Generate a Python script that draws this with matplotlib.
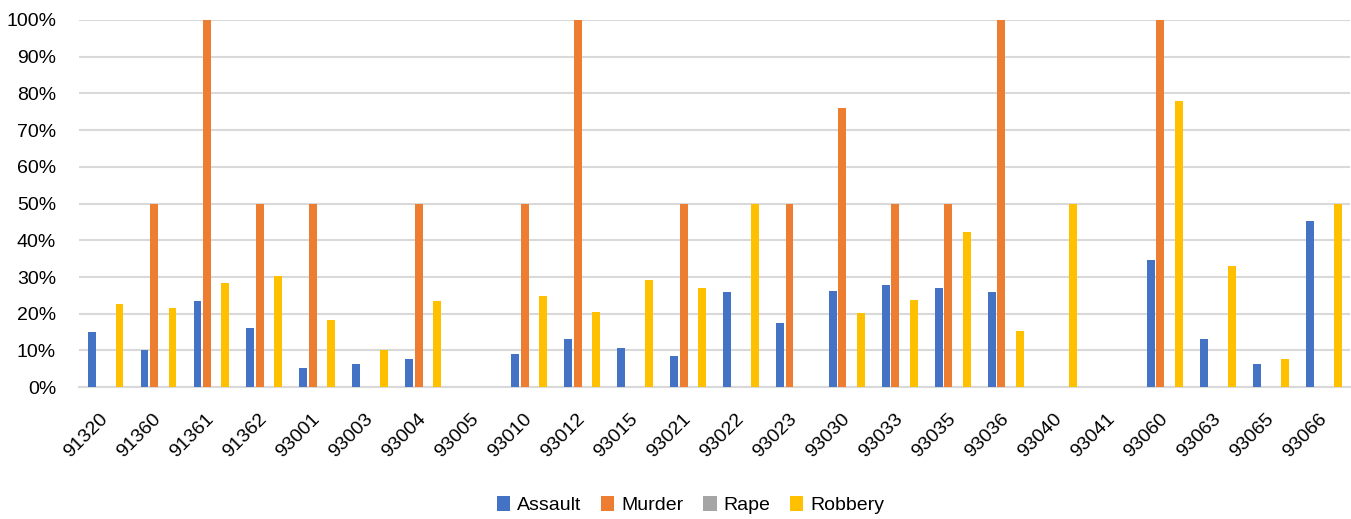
import numpy as np
import matplotlib.pyplot as plt
from matplotlib.ticker import PercentFormatter

# Zip codes and the share of each crime type (percent)
zips = ["91320", "91360", "91361", "91362", "93001", "93003", "93004", "93005",
        "93010", "93012", "93015", "93021", "93022", "93023", "93030", "93033",
        "93035", "93036", "93040", "93041", "93060", "93063", "93065", "93066"]
assault = [15.1, 10.0, 23.4, 16.2, 5.3, 6.4, 7.8, 0, 8.9, 13.2, 10.7, 8.5,
           26.0, 17.6, 26.3, 27.8, 27.0, 26.0, 0, 0, 34.7, 13.2, 6.4, 45.2]
murder = [0, 50, 100, 50, 50, 0, 50, 0, 50, 100, 0, 50,
          0, 50, 76.0, 50, 50, 100, 0, 0, 100, 0, 0, 0]
rape = [0] * len(zips)
robbery = [22.7, 21.6, 28.5, 30.3, 18.3, 10.0, 23.4, 0, 24.9, 20.5, 29.2, 27.0,
           50, 0, 20.1, 23.8, 42.3, 15.4, 50, 0, 77.9, 32.9, 7.8, 50]

series = [("Assault", assault, "#4472C4"),
          ("Murder", murder, "#ED7D31"),
          ("Rape", rape, "#A5A5A5"),
          ("Robbery", robbery, "#FFC000")]

plt.rcParams['font.family'] = ['Liberation Sans', 'DejaVu Sans']

fig = plt.figure(figsize=(13.51, 5.19), dpi=100)
ax = fig.add_axes([0.0585, 0.254, 0.941, 0.7075])

x = np.arange(len(zips))
step = 0.176
width = 0.15
for i, (name, vals, color) in enumerate(series):
    ax.bar(x + (i - 1.5) * step, vals, width, color=color, label=name, zorder=3)

ax.set_xlim(-0.5, len(zips) - 0.5)
ax.set_ylim(0, 100)
ax.set_yticks(np.arange(0, 101, 10))
ax.yaxis.set_major_formatter(PercentFormatter(decimals=0))
ax.grid(axis="y", color="#D9D9D9", linewidth=1.5, zorder=0)
for s in ["top", "right", "left"]:
    ax.spines[s].set_visible(False)
ax.spines["bottom"].set_color("#D9D9D9")
ax.spines["bottom"].set_linewidth(1.5)
ax.tick_params(length=0, labelsize=14, colors="#000000")
ax.tick_params(axis="y", pad=16.5)
ax.tick_params(axis="x", pad=21)

ax.set_xticks(x)
ax.set_xticklabels(zips, rotation=45, ha="right", va="center",
                   rotation_mode="anchor")

fig.legend(loc="center", bbox_to_anchor=(0.511, 0.027), ncol=4, frameon=False,
           fontsize=14, handlelength=0.7, handleheight=0.8, columnspacing=1.0,
           handletextpad=0.35)

fig.savefig("out.png", dpi=100)
